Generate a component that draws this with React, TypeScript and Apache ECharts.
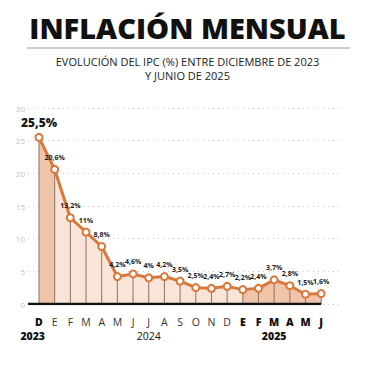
import React, { useEffect, useRef } from "react";
import * as echarts from "echarts";

const months = ["D", "E", "F", "M", "A", "M", "J", "J", "A", "S", "O", "N", "D", "E", "F", "M", "A", "M", "J"];
const boldMonth = [true, false, false, false, false, false, false, false, false, false, false, false, false, true, true, true, true, true, true];
const values = [25.5, 20.6, 13.2, 11, 8.8, 4.2, 4.6, 4, 4.2, 3.5, 2.5, 2.4, 2.7, 2.2, 2.4, 3.7, 2.8, 1.5, 1.6];
const yTicks = [0, 5, 10, 15, 20, 25, 30];
const years = ["2023", "2024", "2025"];
const yearIndex = [-0.4, 7, 15];
const yearBold = [true, false, true];

const FONT = "'Open Sans', 'DejaVu Sans', sans-serif";
const ORANGE = "#d9783b";
const X_MIN = -0.7;
const X_MAX = 19.2;

function fmt(v: number) {
  return String(v).replace(".", ",") + "%";
}

export default function App() {
  const ref = useRef<HTMLDivElement>(null);
  useEffect(() => {
    if (!ref.current) return;
    const chart = echarts.init(ref.current, undefined, { renderer: "svg" });
    const seg = (a: number, b: number) => values.slice(a, b + 1).map((v, k) => [a + k, v]);
    const last = values.length - 1;
    const areaSeries = (a: number, b: number, color: string) => ({
      type: "line",
      data: seg(a, b),
      showSymbol: false,
      symbol: "none",
      lineStyle: { width: 0 },
      areaStyle: { color, opacity: 1 },
      z: 1,
      silent: true,
    });
    const lineData: any[] = values.map((v, i) => [i, v]);
    lineData[0] = { value: [0, values[0]], label: { fontSize: 12, fontWeight: 800, offset: [8, -1] } };
    const option: any = {
      animation: false,
      backgroundColor: "#ffffff",
      title: [
        {
          text: "INFLACIÓN MENSUAL",
          left: "center",
          top: 8,
          textStyle: { fontFamily: FONT, fontSize: 29, fontWeight: 800, color: "#111" },
        },
        {
          text: "EVOLUCIÓN DEL IPC (%) ENTRE DICIEMBRE DE 2023",
          left: "center",
          top: 55,
          padding: 0,
          textStyle: { fontFamily: FONT, fontSize: 11, fontWeight: 400, color: "#222", lineHeight: 13 },
        },
        {
          text: "Y JUNIO DE 2025",
          left: "center",
          top: 69,
          padding: 0,
          textStyle: { fontFamily: FONT, fontSize: 11, fontWeight: 400, color: "#222", lineHeight: 13 },
        },
      ],
      grid: { left: 28, right: 35, top: 108, bottom: 62 },
      xAxis: {
        type: "value",
        min: X_MIN,
        max: X_MAX,
        axisLine: { show: false },
        axisTick: { show: false },
        splitLine: { show: false },
        axisLabel: {
          customValues: months.map((_, i) => i),
          margin: 12,
          formatter: (v: number) => {
            const i = Math.round(v);
            return boldMonth[i] ? `{b|${months[i]}}` : `{r|${months[i]}}`;
          },
          rich: {
            b: { fontFamily: FONT, fontSize: 10.5, fontWeight: 800, color: "#111" },
            r: { fontFamily: FONT, fontSize: 10.5, fontWeight: 400, color: "#333" },
          },
        },
      },
      yAxis: {
        type: "value",
        min: yTicks[0],
        max: yTicks[yTicks.length - 1],
        interval: yTicks[1] - yTicks[0],
        axisLine: { show: false },
        axisTick: { show: false },
        axisLabel: { color: "#c4c4c4", fontSize: 8, fontFamily: FONT, margin: 3 },
        splitLine: { lineStyle: { type: [1, 4], color: "#c8c8c8", width: 1 } },
      },
      series: [
        areaSeries(0, 1, "#efc4a8"),
        areaSeries(1, 13, "#fae4d7"),
        areaSeries(13, last, "#efc4a8"),
        {
          type: "bar",
          data: values.map((v, i) => [i, v]),
          barWidth: 1,
          itemStyle: { color: "#8a7367" },
          z: 2,
          silent: true,
        },
        {
          type: "line",
          data: [[X_MIN, 0], [last, 0]],
          symbol: "none",
          lineStyle: { color: "#111", width: 2.5 },
          z: 3,
          silent: true,
        },
        {
          type: "line",
          data: lineData,
          symbol: "circle",
          symbolSize: 7,
          lineStyle: { color: ORANGE, width: 3 },
          itemStyle: { color: "#fff", borderColor: ORANGE, borderWidth: 2 },
          z: 4,
          label: {
            show: true,
            position: "top",
            distance: 4,
            offset: [6, 0],
            fontFamily: FONT,
            fontSize: 7,
            fontWeight: 700,
            color: "#1a1a1a",
            formatter: (p: any) => fmt(p.value[1]),
          },
          labelLayout: { hideOverlap: false },
        },
      ],
    };
    chart.setOption(option);
    const ys = chart.convertToPixel({ gridIndex: 0 }, [0, 0]) as number[];
    chart.setOption({
      graphic: [
        { type: "line", shape: { x1: 27, y1: 48, x2: 350, y2: 48 }, style: { stroke: "#9a9a9a", lineWidth: 1 } },
        ...years.map((y, k) => {
          const px = chart.convertToPixel({ gridIndex: 0 }, [yearIndex[k], 0]) as number[];
          return {
            type: "text",
            x: px[0],
            y: ys[1] + 32,
            style: {
              text: y,
              fontFamily: FONT,
              fontSize: 10.5,
              fontWeight: yearBold[k] ? 800 : 400,
              fill: "#111",
              textAlign: "center",
              textVerticalAlign: "middle",
            },
          };
        }),
      ],
    });
    return () => chart.dispose();
  }, []);
  return <div ref={ref} style={{ position: "fixed", left: 0, top: 0, width: 375, height: 366 }} />;
}
